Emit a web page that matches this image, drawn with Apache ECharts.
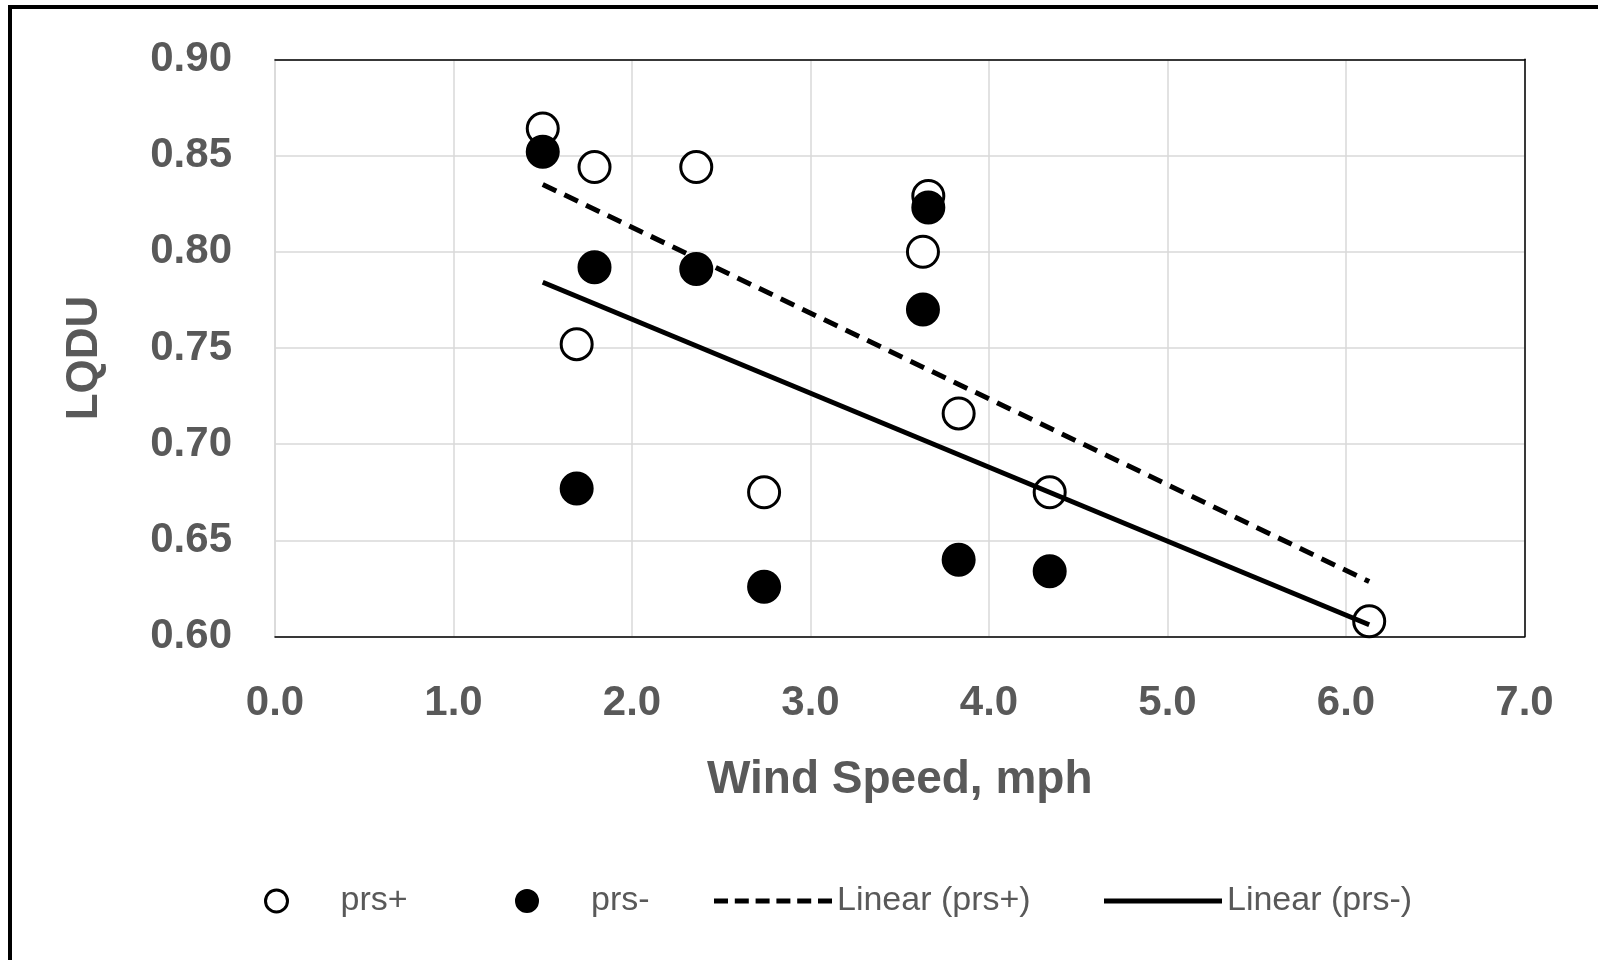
<!DOCTYPE html>
<html>
<head>
<meta charset="utf-8">
<script src="https://cdn.jsdelivr.net/npm/echarts@6/dist/echarts.min.js"></script>
<style>
html,body{margin:0;padding:0;background:#fff;}
#chart{width:1598px;height:960px;}
</style>
</head>
<body>
<div id="chart"></div>
<script>
// ---- data ----
const seriesNames = ['prs+', 'prs-', 'Linear (prs+)', 'Linear (prs-)'];
const windPlus  = [1.50, 1.79, 2.36, 3.66, 3.63, 1.69, 3.83, 2.74, 4.34, 6.13];
const lqduPlus  = [0.864, 0.844, 0.844, 0.829, 0.800, 0.752, 0.716, 0.675, 0.675, 0.608];
const windMinus = [1.50, 1.79, 2.36, 3.66, 3.63, 1.69, 2.74, 3.83, 4.34, 6.13];
const lqduMinus = [0.852, 0.792, 0.791, 0.823, 0.770, 0.677, 0.626, 0.640, 0.634, 0.596];
const xTicks = [0, 1, 2, 3, 4, 5, 6, 7];
const yTicks = [0.60, 0.65, 0.70, 0.75, 0.80, 0.85, 0.90];

function pairs(xs, ys) { return xs.map((x, i) => [x, ys[i]]); }
function trend(xs, ys) {
  const n = xs.length;
  const mx = xs.reduce((a, b) => a + b, 0) / n;
  const my = ys.reduce((a, b) => a + b, 0) / n;
  let sxy = 0, sxx = 0;
  for (let i = 0; i < n; i++) { sxy += (xs[i] - mx) * (ys[i] - my); sxx += (xs[i] - mx) * (xs[i] - mx); }
  const b = sxy / sxx, a = my - b * mx;
  const x0 = Math.min(...xs), x1 = Math.max(...xs);
  return [[x0, a + b * x0], [x1, a + b * x1]];
}

// legend icon shapes
const dashIcon = 'path://' + [0, 1, 2, 3, 4, 5].map(i => 'M' + (i * 20.8) + ',0h14v5h-14z').join(' ');
const solidIcon = 'path://M0,0h118v5h-118z';

const gray = '#595959';
const chart = echarts.init(document.getElementById('chart'));
const legendBase = {
  orient: 'horizontal', top: 879, itemHeight: 22,
  textStyle: { fontFamily: 'Liberation Sans', fontSize: 34, color: gray },
  selectedMode: false
};
chart.setOption({
  animation: false,
  backgroundColor: '#fff',
  graphic: [
    { type: 'rect', shape: { x: 8, y: 5, width: 4, height: 960 }, style: { fill: '#000' } },
    { type: 'rect', shape: { x: 8, y: 5, width: 1598, height: 4 }, style: { fill: '#000' } }
  ],
  grid: { left: 275, right: 73.5, top: 59.3, bottom: 323.3, containLabel: false },
  legend: [
    Object.assign({}, legendBase, { left: 259, itemWidth: 118, itemStyle: { borderWidth: 3 }, data: [{ name: seriesNames[0] }] }),
    Object.assign({}, legendBase, { left: 510, itemWidth: 118, data: [{ name: seriesNames[1] }] }),
    Object.assign({}, legendBase, { left: 709, itemWidth: 118, itemHeight: 5, data: [{ name: seriesNames[2], icon: dashIcon }] }),
    Object.assign({}, legendBase, { left: 1099, itemWidth: 118, itemHeight: 5, data: [{ name: seriesNames[3], icon: solidIcon }] })
  ],
  xAxis: [{
    type: 'value', min: xTicks[0], max: xTicks[xTicks.length - 1], interval: 1,
    name: 'Wind Speed, mph', nameLocation: 'middle', nameGap: 121,
    nameTextStyle: { fontFamily: 'Liberation Sans', fontSize: 46, fontWeight: 'bold', color: gray },
    axisLine: { show: true, onZero: false, lineStyle: { color: '#000', width: 1.5 } },
    axisTick: { show: false },
    axisLabel: { margin: 46, fontFamily: 'Liberation Sans', fontSize: 42, fontWeight: 'bold', color: gray,
      formatter: v => v.toFixed(1) },
    splitLine: { show: true, lineStyle: { color: '#d9d9d9', width: 1.5 } }
  }, {
    type: 'value', position: 'top', min: xTicks[0], max: xTicks[xTicks.length - 1], interval: 1,
    axisLine: { show: true, onZero: false, lineStyle: { color: '#000', width: 1.5 } },
    axisTick: { show: false }, axisLabel: { show: false }, splitLine: { show: false }
  }],
  yAxis: [{
    type: 'value', min: yTicks[0], max: yTicks[yTicks.length - 1], interval: 0.05,
    name: 'LQDU', nameLocation: 'middle', nameGap: 168,
    nameTextStyle: { fontFamily: 'Liberation Sans', fontSize: 44, fontWeight: 'bold', color: gray, padding: [0, 20, 0, 0] },
    axisLine: { show: true, onZero: false, lineStyle: { color: '#d9d9d9', width: 1.5 } },
    axisTick: { show: false },
    axisLabel: { margin: 43, fontFamily: 'Liberation Sans', fontSize: 42, fontWeight: 'bold', color: gray,
      formatter: v => v.toFixed(2) },
    splitLine: { show: true, lineStyle: { color: '#d9d9d9', width: 1.5 } }
  }, {
    type: 'value', position: 'right', min: yTicks[0], max: yTicks[yTicks.length - 1], interval: 0.05,
    axisLine: { show: true, onZero: false, lineStyle: { color: '#000', width: 1.5 } },
    axisTick: { show: false }, axisLabel: { show: false }, splitLine: { show: false }
  }],
  series: [
    { name: seriesNames[0], type: 'scatter', z: 2, symbol: 'circle', symbolSize: 31, clip: true,
      itemStyle: { color: '#fff', borderColor: '#000', borderWidth: 3, opacity: 1 },
      data: pairs(windPlus, lqduPlus) },
    { name: seriesNames[1], type: 'scatter', z: 3, symbol: 'circle', symbolSize: 31, clip: true,
      itemStyle: { color: '#000', borderColor: '#000', borderWidth: 3, opacity: 1 },
      data: pairs(windMinus, lqduMinus) },
    { name: seriesNames[2], type: 'line', z: 4, symbol: 'none', showSymbol: false, color: '#000',
      itemStyle: { color: '#000' },
      lineStyle: { color: '#000', width: 5, type: [15, 9] },
      data: trend(windPlus, lqduPlus) },
    { name: seriesNames[3], type: 'line', z: 4, symbol: 'none', showSymbol: false, color: '#000',
      itemStyle: { color: '#000' },
      lineStyle: { color: '#000', width: 5, type: 'solid' },
      data: trend(windMinus, lqduMinus) }
  ]
});
</script>
</body>
</html>
